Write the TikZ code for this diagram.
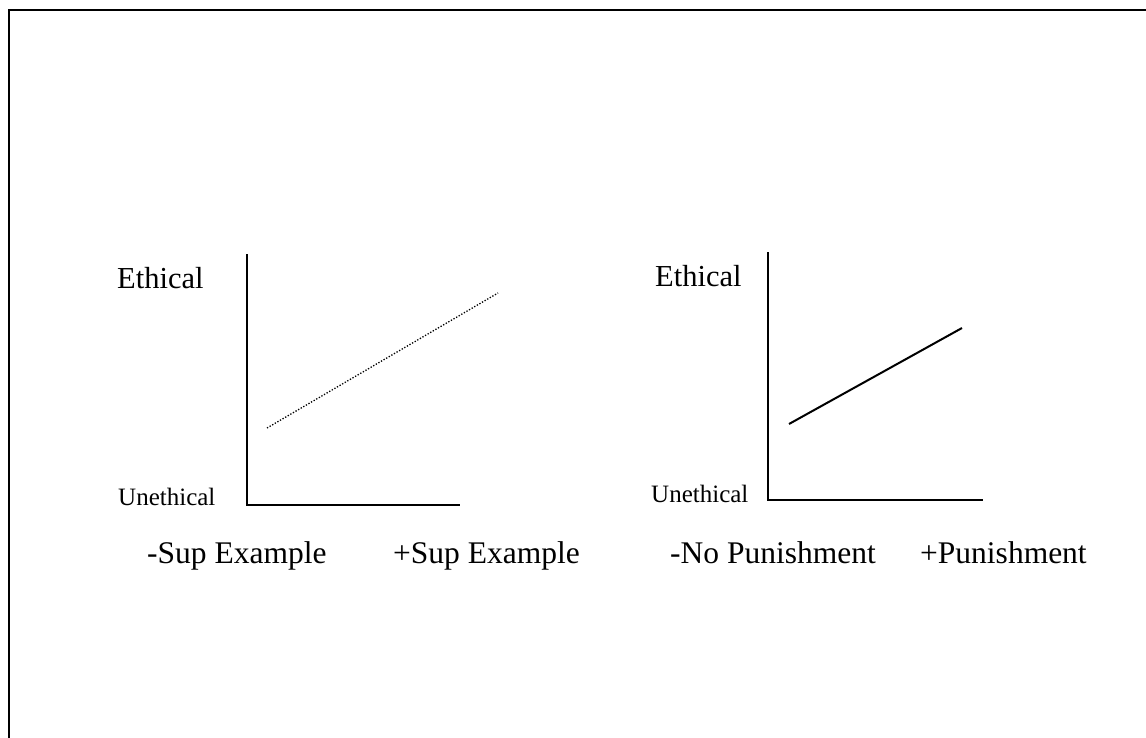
\documentclass[tikz,border=0pt]{standalone}
\usepackage{fontspec}
\setmainfont{Liberation Serif}
\begin{document}
\begin{tikzpicture}[x=1pt,y=-1pt,
  lbl/.style={anchor=base west,inner sep=0pt,font=\fontsize{30.5}{36}\selectfont},
  lowlbl/.style={anchor=base west,inner sep=0pt,font=\fontsize{25}{30}\selectfont},
  caption/.style={anchor=base west,inner sep=0pt,font=\fontsize{31.5}{38}\selectfont},
  axis/.style={line width=1.5pt,line cap=rect},
  frame/.style={line width=2.5pt}]
\useasboundingbox (0,0) rectangle (1146,738);

% outer frame (left and top edges)
\coordinate (fb) at (9,738);
\coordinate (fc) at (9,10);
\coordinate (fr) at (1146,10);
\draw[frame] (fb) -- (fc) -- (fr);

% left chart
\node[lbl] (eth1) at (117,288) {Ethical};
\node[lowlbl] (uneth1) at (118,505) {Unethical};
\coordinate (ytop1) at (247,255);
\coordinate (o1) at (247,505);
\coordinate (xend1) at (459,505);
\draw[axis] (ytop1) -- (o1) -- (xend1);
\coordinate (la) at (267,428);
\coordinate (lb) at (498,293);
\draw[line width=1.3pt,dash pattern=on 1.3pt off 1.7pt] (la) -- (lb);
\node[caption] (sup1) at (147,563) {-Sup Example};
\node[caption] (sup2) at (393,563) {+Sup Example};

% right chart
\node[lbl] (eth2) at (655,287) {Ethical};
\node[lowlbl] (uneth2) at (651,502) {Unethical};
\coordinate (ytop2) at (768,253);
\coordinate (o2) at (768,500);
\coordinate (xend2) at (982,500);
\draw[axis] (ytop2) -- (o2) -- (xend2);
\coordinate (ra) at (789,424);
\coordinate (rb) at (962,328);
\draw[line width=2pt] (ra) -- (rb);
\node[caption] (pun1) at (670,563) {-No Punishment};
\node[caption] (pun2) at (920,563) {+Punishment};
\end{tikzpicture}
\end{document}
